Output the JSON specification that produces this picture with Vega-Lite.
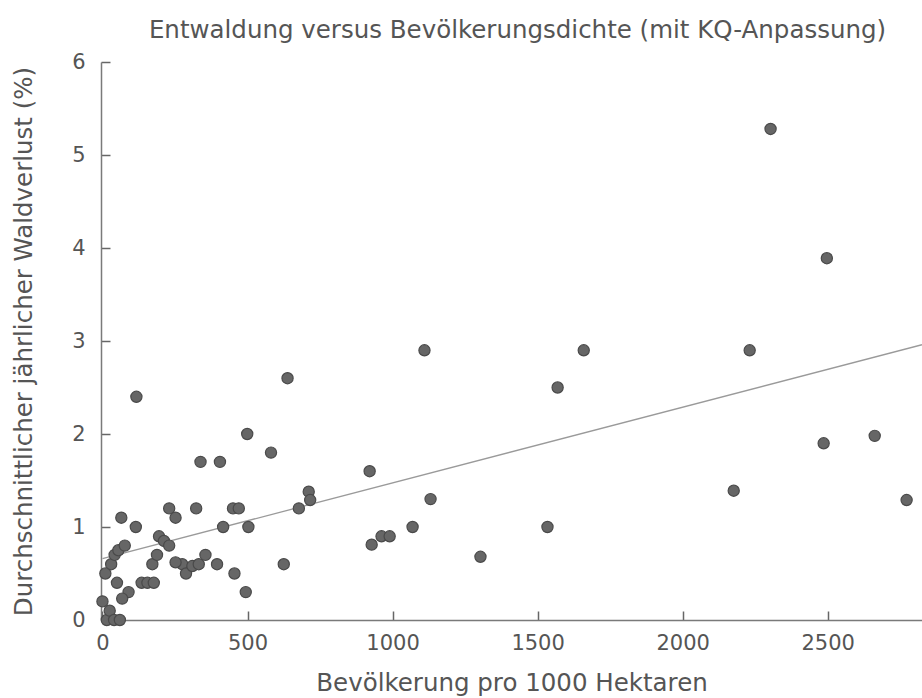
{
  "$schema": "https://vega.github.io/schema/vega-lite/v6.json",
  "autosize": {"type": "none"},
  "padding": {"left": 101, "top": 62, "right": 0, "bottom": 78},
  "width": 821,
  "height": 558,
  "background": "white",
  "config": {
    "view": {"stroke": null},
    "font": "DejaVu Sans",
    "axis": {
      "grid": false,
      "domainColor": "#7a7a7a",
      "domainWidth": 1.5,
      "ticks": true,
      "tickColor": "#666666",
      "tickWidth": 1.5,
      "tickSize": -9,
      "labelFont": "DejaVu Sans",
      "labelFontSize": 21,
      "labelColor": "#555555",
      "titleFont": "DejaVu Sans",
      "titleFontSize": 24.5,
      "titleFontWeight": "normal",
      "titleColor": "#555555"
    }
  },
  "title": {
    "text": "Entwaldung versus Bevölkerungsdichte (mit KQ-Anpassung)",
    "fontSize": 24.5,
    "font": "DejaVu Sans",
    "fontWeight": "normal",
    "color": "#555555",
    "offset": 8,
    "dx": 6
  },
  "datasets": {
    "points": [
      {"dichte": 0, "verlust": 0.2},
      {"dichte": 10, "verlust": 0.5},
      {"dichte": 15, "verlust": 0.0},
      {"dichte": 25, "verlust": 0.1},
      {"dichte": 40, "verlust": 0.0},
      {"dichte": 60, "verlust": 0.0},
      {"dichte": 50, "verlust": 0.4},
      {"dichte": 30, "verlust": 0.6},
      {"dichte": 42, "verlust": 0.7},
      {"dichte": 55, "verlust": 0.75},
      {"dichte": 77, "verlust": 0.8},
      {"dichte": 65, "verlust": 1.1},
      {"dichte": 115, "verlust": 1.0},
      {"dichte": 117, "verlust": 2.4},
      {"dichte": 90, "verlust": 0.3},
      {"dichte": 68, "verlust": 0.23},
      {"dichte": 135, "verlust": 0.4},
      {"dichte": 155, "verlust": 0.4},
      {"dichte": 177, "verlust": 0.4},
      {"dichte": 172, "verlust": 0.6},
      {"dichte": 188, "verlust": 0.7},
      {"dichte": 195, "verlust": 0.9},
      {"dichte": 212, "verlust": 0.85},
      {"dichte": 230, "verlust": 0.8},
      {"dichte": 230, "verlust": 1.2},
      {"dichte": 252, "verlust": 1.1},
      {"dichte": 275, "verlust": 0.6},
      {"dichte": 288, "verlust": 0.5},
      {"dichte": 252, "verlust": 0.62},
      {"dichte": 310, "verlust": 0.58},
      {"dichte": 332, "verlust": 0.6},
      {"dichte": 355, "verlust": 0.7},
      {"dichte": 323, "verlust": 1.2},
      {"dichte": 338, "verlust": 1.7},
      {"dichte": 405, "verlust": 1.7},
      {"dichte": 395, "verlust": 0.6},
      {"dichte": 416, "verlust": 1.0},
      {"dichte": 455, "verlust": 0.5},
      {"dichte": 450, "verlust": 1.2},
      {"dichte": 470, "verlust": 1.2},
      {"dichte": 499, "verlust": 2.0},
      {"dichte": 503, "verlust": 1.0},
      {"dichte": 494, "verlust": 0.3},
      {"dichte": 581, "verlust": 1.8},
      {"dichte": 625, "verlust": 0.6},
      {"dichte": 638, "verlust": 2.6},
      {"dichte": 677, "verlust": 1.2},
      {"dichte": 711, "verlust": 1.38},
      {"dichte": 716, "verlust": 1.29},
      {"dichte": 921, "verlust": 1.6},
      {"dichte": 928, "verlust": 0.81},
      {"dichte": 962, "verlust": 0.9},
      {"dichte": 990, "verlust": 0.9},
      {"dichte": 1069, "verlust": 1.0},
      {"dichte": 1110, "verlust": 2.9},
      {"dichte": 1131, "verlust": 1.3},
      {"dichte": 1303, "verlust": 0.68},
      {"dichte": 1534, "verlust": 1.0},
      {"dichte": 1569, "verlust": 2.5},
      {"dichte": 1659, "verlust": 2.9},
      {"dichte": 2176, "verlust": 1.39},
      {"dichte": 2231, "verlust": 2.9},
      {"dichte": 2303, "verlust": 5.28},
      {"dichte": 2497, "verlust": 3.89},
      {"dichte": 2486, "verlust": 1.9},
      {"dichte": 2662, "verlust": 1.98},
      {"dichte": 2772, "verlust": 1.29}
    ],
    "fit": [
      {"dichte": 0, "verlust": 0.66},
      {"dichte": 2825, "verlust": 2.96}
    ]
  },
  "layer": [
    {
      "data": {"name": "fit"},
      "mark": {"type": "line", "color": "#9a9a9a", "strokeWidth": 1.3},
      "encoding": {
        "x": {"field": "dichte", "type": "quantitative", "scale": {"domain": [-5, 2825], "nice": false}},
        "y": {"field": "verlust", "type": "quantitative", "scale": {"domain": [0, 6], "nice": false}}
      }
    },
    {
      "data": {"name": "points"},
      "mark": {"type": "circle", "size": 125, "color": "#666666", "opacity": 1, "stroke": "#4a4a4a", "strokeWidth": 1.2},
      "encoding": {
        "x": {
          "field": "dichte", "type": "quantitative",
          "scale": {"domain": [-5, 2825], "nice": false},
          "axis": {"title": "Bevölkerung pro 1000 Hektaren", "format": "d", "values": [0, 500, 1000, 1500, 2000, 2500], "labelPadding": 21, "titlePadding": 18, "labelFlush": false}
        },
        "y": {
          "field": "verlust", "type": "quantitative",
          "scale": {"domain": [0, 6], "nice": false},
          "axis": {"title": "Durchschnittlicher jährlicher Waldverlust (%)", "format": "d", "values": [0, 1, 2, 3, 4, 5, 6], "labelPadding": 25, "titlePadding": 35, "labelFlush": false}
        }
      }
    }
  ]
}
